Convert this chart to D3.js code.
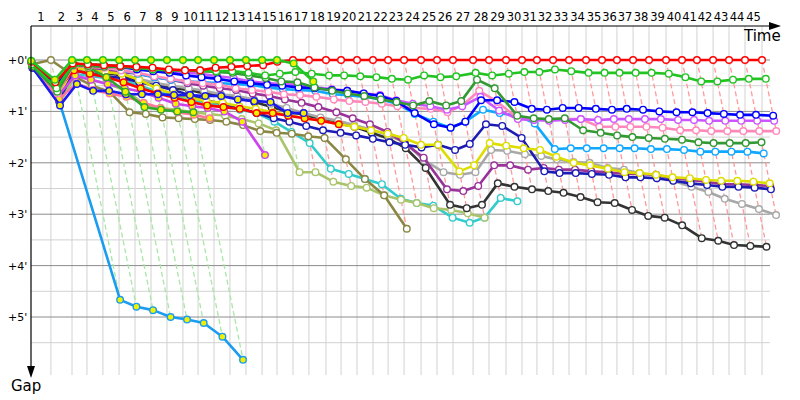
<!DOCTYPE html>
<html><head><meta charset="utf-8">
<script src="https://cdn.jsdelivr.net/npm/d3@7"></script>
<style>body{margin:0;background:#fff}svg{display:block}text{font-family:"DejaVu Sans",Verdana,sans-serif;fill:#000}</style>
</head><body><svg id="c" width="800" height="400"></svg>
<script>
// Leader lap durations (seconds), laps 1..45
const leaderLapTimes = [116,123,87,93,94,93,93,93,93,88,93,93,93,94,87,93,93,99,88,93,93,88,93,99,93,93,117,93,99,93,87,94,93,99,93,87,94,93,99,93,87,94,93,93,99];
const lapLabels = d3.range(1, 46).map(String);
const gapTicks = [0, 60, 120, 180, 240, 300];
const gapTickLabels = ["+0'", "+1'", "+2'", "+3'", "+4'", "+5'"];
const gapMinorTicks = [30, 90, 150, 210, 270, 330];

// Gap to leader (seconds) per lap, starting at lap 0
const gapsRed = [2,26,4,5,6,7,8,9,11,12,12,9,8,7,6,2,0,0,0,0,0,0,0,0,0,0,0,0,0,0,0,0,0,0,0,0,0,0,0,0,0,0,0,0,0,0];
const gapsGreenYellow = [1,23,0,0,0,0,0,0,0,0,0,0,0,0,0,0,4,25];
const gapsGreen = [5,33,5,5,6,7,9,11,12,12,12,13,13,15,18,16,14,16,18,18,19,20,22,23,18,20,19,15,18,16,14,14,11,13,15,15,15,15,15,16,20,25,25,23,22,22];
const gapsDarkGreen = [7,37,6,7,8,8,9,11,12,12,13,14,15,18,21,25,26,32,36,39,42,46,49,53,48,53,48,23,33,65,68,69,68,82,85,88,90,91,92,93,96,97,97,97,96];
const gapsBlue = [2,30,5,6,7,8,11,13,15,18,20,22,25,27,29,30,32,33,35,36,39,42,48,62,75,79,72,47,47,49,57,58,56,56,57,58,57,58,60,61,61,62,63,64,64,65];
const gapsViolet = [4,35,5,5,6,7,9,12,14,15,16,19,21,25,27,28,29,32,34,36,39,41,47,51,54,58,54,43,59,69,70,71,70,69,70,69,69,69,69,70,70,71,71,71,71,71];
const gapsPink = [6,39,7,8,9,12,15,19,22,25,27,29,33,35,37,40,41,43,46,48,49,51,54,56,57,61,53,36,49,68,70,70,69,69,78,78,78,78,79,82,82,83,83,83,83,83];
const gapsSky = [5,37,6,7,8,12,16,20,23,25,26,27,28,29,32,34,35,36,40,41,43,46,51,63,72,79,72,58,62,65,74,104,103,103,103,103,103,104,104,105,107,107,107,107,109];
const gapsPurple = [7,41,9,9,12,14,16,20,23,27,30,33,35,39,42,46,50,55,61,68,75,84,97,114,151,153,147,123,123,128,126,128,128,130,131,133,133,134,138,140,142,145,145,146,147];
const gapsNavy = [9,47,12,16,19,21,26,30,35,41,47,51,56,62,68,72,77,82,85,88,92,96,99,102,99,105,98,75,77,91,130,132,132,133,134,137,137,138,141,144,146,148,148,149,151];
const gapsYellow = [5,42,9,12,14,16,23,33,40,44,48,50,54,57,61,64,68,71,75,78,82,86,91,99,99,130,123,97,100,103,105,113,120,123,127,131,132,134,137,138,140,141,141,142,144];
const gapsGray = [6,44,12,13,14,16,22,27,30,33,36,40,42,46,51,56,62,67,71,76,81,88,96,117,131,134,131,105,106,110,112,116,119,120,126,128,132,135,141,148,154,162,168,174,181];
const gapsBlack = [7,47,12,14,15,18,26,29,33,35,39,42,44,49,55,60,64,69,74,78,85,92,103,126,169,173,169,144,148,151,153,155,160,166,167,175,182,184,193,208,211,216,217,218];
const gapsCyan = [8,49,16,19,21,23,30,37,42,47,50,54,58,62,72,84,97,127,133,139,145,162,167,170,184,190,184,161,165];
const gapsOlive = [5,0,20,30,37,61,63,67,68,69,70,72,76,83,85,86,89,91,116,139,158,197];
const gapsLightOlive = [8,50,19,23,28,35,51,56,58,61,63,65,69,74,82,131,131,142,147,149,158,163,167,173,175,179,184];
const gapsSkyYellow = [9,47,280,288,292,300,303,307,323,350];
const gapsMagentaYellow = [7,42,18,23,28,33,37,44,51,54,56,60,72,111];
const gapsSalmonYellow = [9,46,27,35,39,43,50,56,61,64,68];
const gapsRedYellow = [6,35,12,16,20,26,33,39,44,49,53,55,57,62,62,65,68,71,75];
const gapsBlueYellow = [9,53,28,36,36,40,40,40,41,41,42,42,46,48,49,62,62];
const gapsGreenYellow2 = [5,37,2,9,20,37,55,58,60,61];

const series = [
  {c:"#1a9cf0", f:"#f0f000", g:gapsSkyYellow},
  {c:"#33cccc", f:"#fff", g:gapsCyan},
  {c:"#a9c46a", f:"#fff", g:gapsLightOlive},
  {c:"#8a8744", f:"#fff", g:gapsOlive},
  {c:"#333333", f:"#fff", g:gapsBlack},
  {c:"#a8a8a8", f:"#fff", g:gapsGray},
  {c:"#993399", f:"#fff", g:gapsPurple},
  {c:"#1c1cb4", f:"#fff", g:gapsNavy},
  {c:"#dddd00", f:"#fff", g:gapsYellow},
  {c:"#cc44ee", f:"#f0f000", g:gapsMagentaYellow},
  {c:"#ff7799", f:"#f0f000", g:gapsSalmonYellow},
  {c:"#ff0000", f:"#f0f000", g:gapsRedYellow},
  {c:"#1a1aee", f:"#f0f000", g:gapsBlueYellow},
  {c:"#2ea82e", f:"#f0f000", g:gapsGreenYellow2},
  {c:"#10a8ff", f:"#fff", g:gapsSky},
  {c:"#ff88bb", f:"#fff", g:gapsPink},
  {c:"#cc55ff", f:"#fff", g:gapsViolet},
  {c:"#0000ff", f:"#fff", g:gapsBlue},
  {c:"#339933", f:"#fff", g:gapsDarkGreen},
  {c:"#22c322", f:"#fff", g:gapsGreen},
  {c:"#ff0000", f:"#fff", g:gapsRed},
  {c:"#22c322", f:"#f0f000", g:gapsGreenYellow}
];

const cum = [0];
leaderLapTimes.forEach((d, i) => cum.push(cum[i] + d));

const svg = d3.select("#c");
const x = d3.scaleLinear().domain([0, cum[cum.length - 1]]).range([31, 762]);
const y = d3.scaleLinear().domain([0, 300]).range([60, 317]);
const topY = 26, bottomY = 375, rightX = 770;

// grid
const grid = svg.append("g");
grid.selectAll(".vg").data(cum.slice(1)).join("line")
  .attr("x1", d => x(d)).attr("x2", d => x(d)).attr("y1", topY).attr("y2", bottomY)
  .attr("stroke", "#d2d2d2").attr("stroke-width", 1);
grid.selectAll(".hm").data(gapMinorTicks).join("line")
  .attr("x1", 31).attr("x2", rightX).attr("y1", d => y(d)).attr("y2", d => y(d))
  .attr("stroke", "#d2d2d2").attr("stroke-width", 1);
grid.selectAll(".hM").data(gapTicks).join("line")
  .attr("x1", 31).attr("x2", rightX).attr("y1", d => y(d)).attr("y2", d => y(d))
  .attr("stroke", "#8c8c8c").attr("stroke-width", 1);

// lap lines (dashed, same lap across drivers)
const lapG = svg.append("g");
for (let k = 1; k <= 45; k++) {
  const pts = series.filter(s => s.g.length > k).map(s => ({t: cum[k] + s.g[k], g: s.g[k], c: s.c}))
    .sort((a, b) => a.g - b.g);
  if (pts.length < 2) continue;
  const col = d3.interpolateRgb(pts[0].c, "#ffffff")(0.6);
  lapG.append("path")
    .attr("d", d3.line().x(d => x(d.t)).y(d => y(d.g))(pts))
    .attr("fill", "none").attr("stroke", col).attr("stroke-width", 1.3)
    .attr("stroke-dasharray", "5,3");
}

// series
const line = d3.line().x(d => x(d.t)).y(d => y(d.g));
series.forEach(s => {
  const pts = s.g.map((g, i) => ({t: cum[i] + g, g}));
  const gg = svg.append("g");
  gg.append("path").attr("d", line(pts)).attr("fill", "none")
    .attr("stroke", s.c).attr("stroke-width", 2.6).attr("stroke-linejoin", "round");
  gg.selectAll("circle").data(pts).join("circle")
    .attr("cx", d => x(d.t)).attr("cy", d => y(d.g)).attr("r", 3.3)
    .attr("fill", s.f).attr("stroke", s.c).attr("stroke-width", 1.4);
});

// axes
svg.append("line").attr("x1", 31).attr("x2", 776).attr("y1", topY).attr("y2", topY)
  .attr("stroke", "#000").attr("stroke-width", 1.2);
svg.append("path").attr("d", `M781,${topY} L769,${topY-4} L769,${topY+4} Z`).attr("fill", "#000");
svg.append("line").attr("x1", 31).attr("x2", 31).attr("y1", topY).attr("y2", 372)
  .attr("stroke", "#000").attr("stroke-width", 1.2);
svg.append("path").attr("d", `M31,378 L27,366 L35,366 Z`).attr("fill", "#000");

// lap labels
svg.selectAll(".lap").data(lapLabels).join("text")
  .attr("x", (d, i) => x((cum[i] + cum[i + 1]) / 2)).attr("y", 21)
  .attr("text-anchor", "middle").attr("font-size", 11.5).text(d => d);

svg.selectAll(".gl").data(gapTicks).join("text")
  .attr("x", 8).attr("y", d => y(d) + 4).attr("font-size", 11).text((d, i) => gapTickLabels[i]);

svg.append("text").attr("x", 744).attr("y", 41).attr("font-size", 15).text("Time");
svg.append("text").attr("x", 11).attr("y", 391).attr("font-size", 15).text("Gap");
</script></body></html>
